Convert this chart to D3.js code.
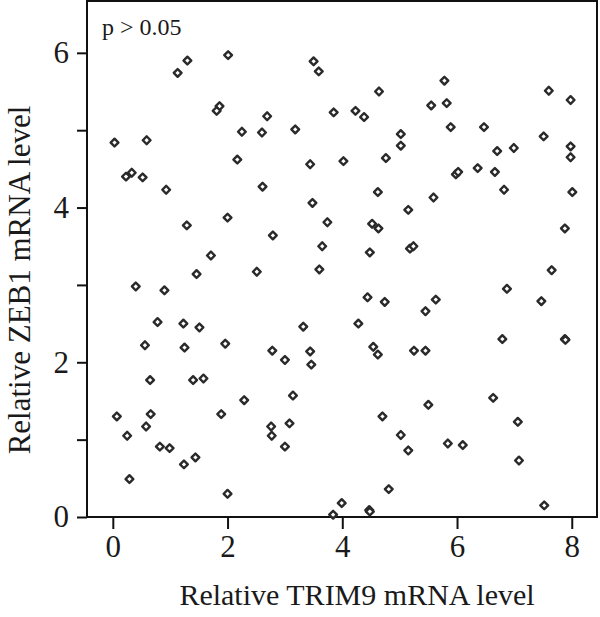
<!DOCTYPE html>
<html lang="en">
<head>
    <meta charset="UTF-8">
    <title>TRIM9 vs ZEB1</title>
    <style>
        body {
            margin: 0;
            background-color: #FFFFFF;
        }
        svg text {
            font-family: "Liberation Serif", "Times New Roman", serif;
            fill: #1a1a1a;
        }
    </style>
</head>
<body>
    <div id="chart"></div>

    <script src="https://d3js.org/d3.v7.min.js"></script>
    <script>
        // Relative TRIM9 mRNA level (x) for each sample
        const trim9 = [
            1.30, 1.13, 0.03, 0.59, 0.23, 0.33, 0.52, 0.93, 1.29, 1.71,
            2.01, 3.50, 3.59, 1.86, 1.81, 2.69, 3.85, 2.25, 2.60, 3.18,
            2.17, 3.44, 2.61, 3.48, 2.00, 3.74, 2.79, 3.65, 2.51, 3.60,
            5.78, 4.64, 5.55, 5.82, 4.23, 4.38, 5.89, 5.02, 5.02, 4.02,
            4.76, 5.98, 6.02, 4.62, 5.59, 5.15, 4.52, 4.63, 4.48, 5.18,
            5.24, 7.60, 7.98, 6.47, 7.51, 6.70, 6.99, 7.98, 7.98, 6.36,
            6.66, 6.82, 8.01, 7.88, 7.65, 1.46, 0.40, 0.90, 0.78, 1.23,
            1.51, 0.56, 1.25, 0.65, 1.40, 1.58, 0.07, 0.66, 0.25, 0.58,
            0.82, 0.99, 1.24, 1.44, 0.29, 3.32, 1.96, 2.78, 3.00, 3.44,
            3.46, 2.29, 3.14, 1.89, 2.76, 2.77, 3.08, 3.00, 2.00, 4.44,
            4.74, 5.63, 5.45, 4.28, 4.54, 4.62, 5.25, 5.45, 5.50, 4.70,
            5.02, 5.15, 5.84, 6.10, 4.81, 3.99, 3.84, 4.47, 4.48, 6.87,
            7.47, 6.79, 7.88, 7.89, 6.63, 7.06, 7.08, 7.52
        ];

        // Relative ZEB1 mRNA level (y) for each sample
        const zeb1 = [
            5.90, 5.74, 4.84, 4.87, 4.40, 4.45, 4.39, 4.23, 3.77, 3.38,
            5.97, 5.89, 5.76, 5.31, 5.25, 5.18, 5.23, 4.98, 4.97, 5.01,
            4.62, 4.56, 4.27, 4.06, 3.87, 3.81, 3.64, 3.50, 3.17, 3.20,
            5.64, 5.50, 5.32, 5.35, 5.25, 5.17, 5.04, 4.95, 4.80, 4.60,
            4.64, 4.43, 4.46, 4.20, 4.13, 3.97, 3.79, 3.73, 3.42, 3.47,
            3.50, 5.51, 5.39, 5.04, 4.92, 4.73, 4.77, 4.79, 4.65, 4.51,
            4.46, 4.23, 4.20, 3.73, 3.19, 3.14, 2.98, 2.93, 2.52, 2.50,
            2.45, 2.22, 2.19, 1.77, 1.77, 1.79, 1.30, 1.33, 1.05, 1.17,
            0.91, 0.89, 0.68, 0.77, 0.49, 2.46, 2.24, 2.15, 2.03, 2.14,
            1.97, 1.51, 1.57, 1.33, 1.17, 1.05, 1.21, 0.91, 0.30, 2.84,
            2.78, 2.81, 2.66, 2.50, 2.20, 2.10, 2.15, 2.15, 1.45, 1.30,
            1.06, 0.86, 0.95, 0.93, 0.36, 0.18, 0.03, 0.09, 0.07, 2.95,
            2.79, 2.30, 2.30, 2.29, 1.54, 1.23, 0.73, 0.15
        ];

        const xTicks = [0, 2, 4, 6, 8];
        const yTicks = [0, 1, 2, 3, 4, 5, 6];
        const yLabels = [0, 2, 4, 6];

        const xTitle = "Relative TRIM9 mRNA level";
        const yTitle = "Relative ZEB1 mRNA level";
        const note = "p > 0.05";

        const width = 600;
        const height = 617;
        const margin = { top: 1, right: 3, bottom: 100, left: 87 };

        const svg = d3.select("#chart")
            .append("svg")
            .attr("width", width)
            .attr("height", height);

        // Scales (plot box runs a bit past the ticks on both sides)
        const x = d3.scaleLinear()
            .domain([-0.45, 8.44])
            .range([margin.left, width - margin.right]);

        const y = d3.scaleLinear()
            .domain([0, 6.67])
            .range([height - margin.bottom, margin.top]);

        const plot = svg.append("g");

        // Frame
        plot.append("rect")
            .attr("x", x.range()[0])
            .attr("y", y.range()[1])
            .attr("width", x.range()[1] - x.range()[0])
            .attr("height", y.range()[0] - y.range()[1])
            .attr("fill", "none")
            .attr("stroke", "#111")
            .attr("stroke-width", 2);

        // X axis
        const xAxis = svg.append("g")
            .attr("transform", `translate(0, ${y(0)})`)
            .call(d3.axisBottom(x).tickValues(xTicks).tickSize(12).tickPadding(6).tickFormat(d3.format("d")));

        // Y axis
        const yAxis = svg.append("g")
            .attr("transform", `translate(${x.range()[0]}, 0)`)
            .call(d3.axisLeft(y).tickValues(yTicks).tickSize(10).tickPadding(8)
                .tickFormat(d => yLabels.includes(d) ? d : ""));

        [xAxis, yAxis].forEach(g => {
            g.select(".domain").remove();
            g.selectAll(".tick line").attr("stroke", "#111").attr("stroke-width", 2);
            g.selectAll(".tick text")
                .attr("font-family", "Liberation Serif, serif")
                .attr("font-size", 31)
                .attr("fill", "#1a1a1a");
        });

        // Points: small open diamonds with a thick dark ring
        const points = trim9.map((v, i) => ({ x: v, y: zeb1[i] }));
        const marker = d3.symbol().type(d3.symbolSquare).size(30);

        plot.append("g")
            .selectAll("path")
            .data(points)
            .join("path")
            .attr("d", marker)
            .attr("transform", d => `translate(${x(d.x)}, ${y(d.y)}) rotate(45)`)
            .attr("fill", "#FFFFFF")
            .attr("stroke", "#2a2a2a")
            .attr("stroke-width", 2.4)
            .attr("stroke-linejoin", "round");

        // Labels
        svg.append("text")
            .attr("x", 102)
            .attr("y", 35)
            .attr("font-size", 24)
            .text(note);

        svg.append("text")
            .attr("x", 357)
            .attr("y", 605)
            .attr("text-anchor", "middle")
            .attr("font-size", 30)
            .text(xTitle);

        svg.append("text")
            .attr("transform", "translate(30, 280) rotate(-90)")
            .attr("text-anchor", "middle")
            .attr("font-size", 31)
            .text(yTitle);
    </script>
</body>
</html>
